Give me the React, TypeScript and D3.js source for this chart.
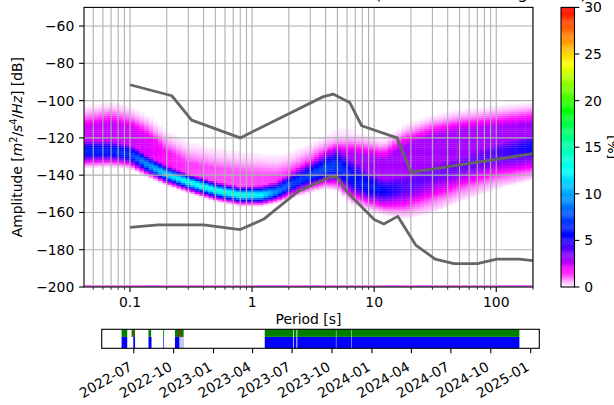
import React from "react";
import * as d3 from "d3";

// ---- PPSD histogram: column description at key periods (s) ----
const keyPeriods = [0.042, 0.07, 0.1, 0.14, 0.2, 0.3, 0.5, 0.8, 1.2, 1.6, 2.2, 3, 4, 5, 6.5, 9, 12, 18, 30, 50, 100, 200];
// lower edge of the populated band (dB)
const lowerEdgeDb = [-135, -134.5, -135.5, -140, -144.5, -148.5, -153, -155.5, -155.5, -154, -151, -148, -146, -147, -154, -157.5, -160, -162, -159, -153, -146, -141];
// most probable level (dB)
const modeDb = [-127, -127, -128.5, -134.5, -139.5, -143.5, -148, -150.5, -150.5, -149, -144, -140, -136.5, -135, -142, -146, -148, -146, -140, -135, -128, -124];
// spread of the core above the mode (dB)
const coreWidthDb = [4, 4, 3.5, 3, 2.5, 2.2, 2.2, 2.2, 2.5, 3, 4, 4.5, 5.5, 6.5, 9, 7, 5, 7, 8, 7, 6, 5];
// probability at the mode (%)
const peakPct = [6.5, 6.5, 7, 9.5, 11.5, 13, 13.5, 13.5, 12.5, 9, 7, 7, 7.5, 7, 6, 6, 5.5, 4.2, 3.8, 3.8, 4.2, 5.5];
// highest level reached by the noisy tail (dB)
const upperEdgeDb = [-102, -100, -102, -107, -115, -121, -124, -126, -127, -128, -126, -122, -118, -116.5, -116.5, -118, -120, -112, -107, -104, -102, -100];
// probability of the broad noisy tail (%)
const plateauPct = [2.4, 2.6, 2.4, 2.2, 1.7, 1.4, 1.3, 1.3, 1.3, 1.4, 1.7, 2, 2.3, 2.6, 2.9, 3, 3, 3, 3, 3, 3, 3];
// share of segments collected in the lowest dB bin (%)
const floorBinPct = 1.2;

// ---- Peterson noise models ----
const nhnmPeriods = [0.1, 0.22, 0.32, 0.8, 3.8, 4.6, 6.3, 7.9, 15.4, 20, 354.8];
const nhnmDb = [-91.5, -97.4, -110.5, -120.0, -98.0, -96.5, -101.0, -113.5, -120.0, -138.5, -126.0];
const nlnmPeriods = [0.1, 0.17, 0.4, 0.8, 1.24, 2.4, 4.3, 5.0, 6.0, 10.0, 12.0, 15.6, 21.9, 31.6, 45, 70, 101, 154, 328];
const nlnmDb = [-168.0, -166.7, -166.7, -169.2, -163.7, -148.6, -141.1, -141.1, -149.0, -163.8, -166.2, -162.1, -177.5, -185.0, -187.5, -187.5, -185.0, -185.0, -187.5];

// ---- data coverage ----
const dataSpans = [
  ["2022-06-03", "2022-06-16"],
  ["2022-06-26", "2022-07-04"],
  ["2022-08-04", "2022-08-10"],
  ["2022-09-07", "2022-09-09"],
  ["2022-10-04", "2022-10-24"],
  ["2023-04-29", "2023-07-03T12:00"],
  ["2023-07-05", "2023-07-11"],
  ["2023-07-13", "2023-10-10"],
  ["2023-10-11", "2023-11-15"],
  ["2023-11-16", "2024-12-06"],
];
const gapSpans = [
  ["2022-07-01", "2022-07-02T12:00"],
  ["2022-10-14", "2022-10-17"],
];
const processedSpans = [
  ["2022-06-03", "2022-06-16"],
  ["2022-06-30", "2022-07-04"],
  ["2022-08-04", "2022-08-11"],
  ["2022-09-07", "2022-09-08T12:00"],
  ["2022-10-04", "2022-10-14"],
  ["2022-10-15", "2022-10-15T12:00"],
  ["2022-10-17", "2022-10-17T12:00"],
  ["2022-10-19", "2022-10-19T12:00"],
  ["2022-10-21", "2022-10-21T12:00"],
  ["2022-10-23", "2022-10-23T12:00"],
  ["2023-04-29", "2023-07-03T12:00"],
  ["2023-07-05", "2023-07-11"],
  ["2023-07-13", "2023-10-10"],
  ["2023-10-11", "2023-11-15"],
  ["2023-11-16", "2024-12-06"],
];

const stationId = "XX.ST01..HHZ";
const startDate = "2022-06-03";
const endDate = "2024-12-06";
const segmentsUsed = 21924;
const segmentsTotal = 21924;

const yTicks = [-60, -80, -100, -120, -140, -160, -180, -200];
const xTicks = [0.1, 1, 10, 100];
const cbarTicks = [0, 5, 10, 15, 20, 25, 30];

// pqlx-like colour ramp
const cmapStops = [0, 0.4, 1.8, 3.5, 5.5, 9, 12.5, 15.5, 19, 24, 27, 30];
const cmapColors = ["#fff4ff", "#ffc8ff", "#ff00ff", "#8000ff", "#0000ff", "#0080ff", "#00ffff", "#00ffa0", "#00ff00", "#ffff00", "#ff8000", "#ff0000"];

const FONT = "DejaVu Sans, sans-serif";
const FS = 13.9;

function parseDate(s: string) {
  return new Date(s.length === 10 ? s + "T00:00:00Z" : s + ":00Z");
}

export default function App() {
  const W = 614, H = 405;
  const L = 84, R = 533, T = 7.4, B = 287;
  const x = d3.scaleLog().domain([0.042, 200]).range([L, R]);
  const y = d3.scaleLinear().domain([-200, -50]).range([B, T]);
  const color = d3.scaleLinear<string>().domain(cmapStops).range(cmapColors).clamp(true);

  const lk = keyPeriods.map((p) => Math.log10(p));
  const mk = (arr: number[]) => d3.scaleLinear().domain(lk).range(arr).clamp(true);
  const fLo = mk(lowerEdgeDb), fMode = mk(modeDb), fW = mk(coreWidthDb), fPk = mk(peakPct), fHi = mk(upperEdgeDb), fPl = mk(plateauPct);

  const cellPct = (d: number, lp: number) => {
    const lo = fLo(lp), mode = fMode(lp), w = fW(lp), pk = fPk(lp), hi = fHi(lp), pl = fPl(lp);
    if (d < lo - 1.5) return 0;
    let core;
    if (d >= mode) core = pk * Math.exp(-0.5 * ((d - mode) / w) ** 2);
    else core = pk * Math.exp(-0.5 * ((mode - d) / Math.max(1, (mode - lo) / 2.2)) ** 2);
    let tail = 0;
    if (d >= mode && d <= hi) tail = pl * Math.pow(Math.min(1, (hi - d) / 12), 1.5);
    let v = Math.max(core, tail);
    if (d < lo) v *= Math.max(0, (d - (lo - 1.5)) / 1.5);
    return v;
  };

  // histogram cells on 1/8 octave period bins and 1 dB bins
  const cells: { x0: number; x1: number; y0: number; y1: number; c: string }[] = [];
  const kMin = Math.floor(Math.log2(0.042) * 8) - 1;
  const kMax = Math.ceil(Math.log2(200) * 8) + 1;
  for (let k = kMin; k <= kMax; k++) {
    const p0 = Math.pow(2, (k - 0.5) / 8), p1 = Math.pow(2, (k + 0.5) / 8);
    const lp = Math.log10(Math.pow(2, k / 8));
    for (let db = -200; db < -50; db++) {
      const v = db === -200 ? floorBinPct : cellPct(db + 0.5, lp);
      if (v < 0.06) continue;
      cells.push({ x0: x(p0), x1: x(p1), y0: y(db + 1), y1: y(db), c: color(v) });
    }
  }

  const minor: number[] = [];
  for (let e = -2; e <= 2; e++) for (let m = 1; m <= 9; m++) {
    const v = m * Math.pow(10, e);
    if (v >= 0.042 && v <= 200 && m !== 1) minor.push(v);
  }

  const lineGen = d3.line<[number, number]>().x((d) => x(d[0])).y((d) => y(d[1]));
  const nhnm = lineGen(nhnmPeriods.map((p, i) => [p, nhnmDb[i]]));
  const nlnm = lineGen(nlnmPeriods.map((p, i) => [p, nlnmDb[i]]));

  // colour bar
  const CL = 561, CR = 574.5;
  const cy = d3.scaleLinear().domain([0, 30]).range([B, T]);
  const cbarSteps = d3.range(0, 30, 0.1);

  // coverage bar
  const TL = 101.7, TR = 539.3, TT = 329.3, TB = 348.3;
  const allDates = dataSpans.flat().map(parseDate);
  const ext = d3.extent(allDates) as [Date, Date];
  const span = +ext[1] - +ext[0];
  const xt = d3.scaleUtc().domain([new Date(+ext[0] - span * 0.05), new Date(+ext[1] + span * 0.05)]).range([TL, TR]);
  const monthTicks = d3.utcMonth.every(3)!.range(xt.domain()[0], xt.domain()[1]).filter((d) => d.getUTCMonth() % 3 === 0);
  const yMid = TT + (TB - TT) * 0.4;
  const fmt = d3.utcFormat("%Y-%m");

  const title = `${stationId}   ${startDate} -- ${endDate}  (${segmentsUsed}/${segmentsTotal} segments)`;

  return (
    <svg width={W} height={H} style={{ position: "absolute", left: 0, top: 0, background: "#fff" }} fontFamily={FONT}>
      <defs>
        <clipPath id="plotArea"><rect x={L} y={T} width={R - L} height={B - T} /></clipPath>
      </defs>
      <text x={(L + R) / 2} y={-0.9} fontSize={16.7} textAnchor="middle">{title}</text>

      <g clipPath="url(#plotArea)">
        {cells.map((c, i) => (
          <rect key={i} x={c.x0} y={c.y0} width={c.x1 - c.x0 + 0.3} height={c.y1 - c.y0 + 0.3} fill={c.c} />
        ))}
        {[...minor, ...xTicks].map((v, i) => (
          <line key={"gx" + i} x1={x(v)} x2={x(v)} y1={T} y2={B} stroke="#b0b0b0" strokeWidth={1.1} />
        ))}
        {yTicks.map((v) => (
          <line key={"gy" + v} x1={L} x2={R} y1={y(v)} y2={y(v)} stroke="#b0b0b0" strokeWidth={1.1} />
        ))}
        <path d={nhnm!} fill="none" stroke="#666666" strokeWidth={2.8} strokeLinejoin="round" />
        <path d={nlnm!} fill="none" stroke="#666666" strokeWidth={2.8} strokeLinejoin="round" />
      </g>
      <rect x={L} y={T} width={R - L} height={B - T} fill="none" stroke="#000" strokeWidth={1.1} />

      {xTicks.map((v) => (
        <g key={"xt" + v}>
          <line x1={x(v)} x2={x(v)} y1={B} y2={B + 4.9} stroke="#000" strokeWidth={1.1} />
          <text x={x(v)} y={B + 9.7 + 10.1} fontSize={FS} textAnchor="middle">{String(v)}</text>
        </g>
      ))}
      {minor.map((v, i) => (
        <line key={"mt" + i} x1={x(v)} x2={x(v)} y1={B} y2={B + 2.8} stroke="#000" strokeWidth={0.8} />
      ))}
      {yTicks.map((v) => (
        <g key={"yt" + v}>
          <line x1={L} x2={L - 4.9} y1={y(v)} y2={y(v)} stroke="#000" strokeWidth={1.1} />
          <text x={L - 9.7} y={y(v)} dy="0.36em" fontSize={FS} textAnchor="end">{"\u2212" + Math.abs(v)}</text>
        </g>
      ))}
      <text x={(L + R) / 2} y={324} fontSize={FS} textAnchor="middle">Period [s]</text>
      <text transform={`translate(22,${(T + B) / 2}) rotate(-90)`} fontSize={FS} textAnchor="middle">
        <tspan>Amplitude [</tspan>
        <tspan fontStyle="italic">m</tspan>
        <tspan fontSize={FS * 0.7} dy={-5.5}>2</tspan>
        <tspan dy={5.5}>/</tspan>
        <tspan fontStyle="italic">s</tspan>
        <tspan fontSize={FS * 0.7} dy={-5.5}>4</tspan>
        <tspan dy={5.5}>/</tspan>
        <tspan fontStyle="italic">Hz</tspan>
        <tspan>] [dB]</tspan>
      </text>

      {/* colour bar */}
      {cbarSteps.map((v, i) => (
        <rect key={"cb" + i} x={CL} y={cy(v + 0.1)} width={CR - CL} height={cy(v) - cy(v + 0.1) + 0.3} fill={color(v + 0.05)} />
      ))}
      <rect x={CL} y={T} width={CR - CL} height={B - T} fill="none" stroke="#000" strokeWidth={1.1} />
      {cbarTicks.map((v) => (
        <g key={"ct" + v}>
          <line x1={CR} x2={CR + 4.9} y1={cy(v)} y2={cy(v)} stroke="#000" strokeWidth={1.1} />
          <text x={CR + 9.7} y={cy(v)} dy="0.36em" fontSize={FS}>{v}</text>
        </g>
      ))}
      <text transform={`translate(618,${(T + B) / 2}) rotate(-90)`} fontSize={FS} textAnchor="middle">[%]</text>

      {/* coverage bar */}
      {processedSpans.map(([a, b], i) => (
        <rect key={"pb" + i} x={xt(parseDate(a))} y={yMid} width={xt(parseDate(b)) - xt(parseDate(a))} height={TB - yMid} fill="#0000ff" />
      ))}
      {dataSpans.map(([a, b], i) => (
        <rect key={"ds" + i} x={xt(parseDate(a))} y={TT} width={xt(parseDate(b)) - xt(parseDate(a))} height={yMid - TT} fill="#008000" />
      ))}
      {gapSpans.map(([a, b], i) => (
        <rect key={"gs" + i} x={xt(parseDate(a))} y={TT} width={xt(parseDate(b)) - xt(parseDate(a))} height={yMid - TT} fill="#ff0000" />
      ))}
      <rect x={TL} y={TT} width={TR - TL} height={TB - TT} fill="none" stroke="#000" strokeWidth={1.1} />
      {monthTicks.map((d, i) => {
        const tx = xt(d);
        return (
          <g key={"dt" + i}>
            <line x1={tx} x2={tx} y1={TB} y2={TB + 4.9} stroke="#000" strokeWidth={1.1} />
            <text transform={`translate(${tx - 0.5},${TB + 9.7 + 11.5}) rotate(-30)`} fontSize={FS} textAnchor="end">{fmt(d)}</text>
          </g>
        );
      })}
    </svg>
  );
}
